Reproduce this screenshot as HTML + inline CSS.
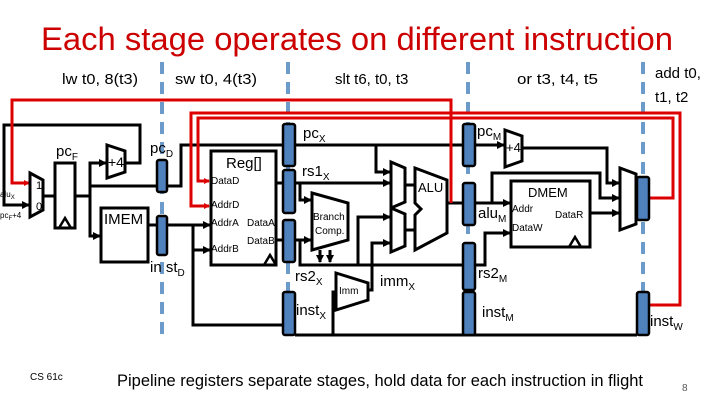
<!DOCTYPE html>
<html><head><meta charset="utf-8"><style>
html,body{margin:0;padding:0;background:#fff;}
svg{display:block;font-family:"Liberation Sans",sans-serif;}
</style></head><body>
<svg width="720" height="405" viewBox="0 0 720 405" xmlns="http://www.w3.org/2000/svg">
<defs>
<marker id="a" markerWidth="5" markerHeight="5" refX="4" refY="2.5" orient="auto" markerUnits="userSpaceOnUse"><path d="M0,0 L5,2.5 L0,5 z" fill="#000"/></marker>
<marker id="r" markerWidth="6" markerHeight="6" refX="5" refY="3" orient="auto" markerUnits="userSpaceOnUse"><path d="M0,0 L6,3 L0,6 z" fill="#d00"/></marker>
<marker id="b" markerWidth="8" markerHeight="8" refX="7" refY="4" orient="auto" markerUnits="userSpaceOnUse"><path d="M0,0 L8,4 L0,8 z" fill="#000"/></marker>
</defs>
<text x="357" y="50" font-size="32" fill="#c00" text-anchor="middle" textLength="632" lengthAdjust="spacingAndGlyphs">Each stage operates on different instruction</text>
<g font-size="15" fill="#000">
<text x="62" y="84" textLength="76" lengthAdjust="spacingAndGlyphs">lw t0, 8(t3)</text>
<text x="175" y="84" textLength="82" lengthAdjust="spacingAndGlyphs">sw t0, 4(t3)</text>
<text x="335" y="84">slt t6, t0, t3</text>
<text x="517" y="84" textLength="81" lengthAdjust="spacingAndGlyphs">or t3, t4, t5</text>
<text x="655" y="78">add t0,</text>
<text x="655" y="102">t1, t2</text>
</g>
<g stroke="#6c9bc9" stroke-width="4" stroke-dasharray="12,8">
<line x1="162" y1="62" x2="162" y2="340"/>
<line x1="288" y1="62" x2="288" y2="340"/>
<line x1="468" y1="62" x2="468" y2="340"/>
<line x1="643" y1="62" x2="643" y2="340"/>
</g>
<g stroke="#000" stroke-width="3" fill="none">
<polyline points="125,163 140,163 140,125 4,125 4,205 29,205" marker-end="url(#b)"/>
<line x1="43" y1="196" x2="55" y2="196"/>
<polyline points="75,196 90,196"/>
<polyline points="90,196 90,163 106,163" marker-end="url(#b)"/>
<polyline points="90,196 90,236 100,236" marker-end="url(#b)"/>
<polyline points="90,186 157,186"/>
<polyline points="148,225 157,225"/>
<polyline points="167,186 181,186 181,145 283,145"/>
<polyline points="167,225 193,225 193,325 283,325" />
<polyline points="193,225 210,225" marker-end="url(#b)"/>
<polyline points="193,250 210,250" marker-end="url(#b)"/>
<line x1="276" y1="183" x2="283" y2="183"/>
<line x1="276" y1="240" x2="283" y2="240"/>
<line x1="295" y1="145" x2="463" y2="145"/>
<polyline points="376,145 376,172 390,172" marker-end="url(#b)"/>
<polyline points="295,183 390,183" marker-end="url(#b)"/>
<polyline points="300,183 300,200 311,200" marker-end="url(#b)"/>
<polyline points="295,240 311,240" marker-end="url(#b)"/>
<polyline points="300,240 300,265 463,265"/>
<polyline points="358,265 358,217 390,217" marker-end="url(#b)"/>
<polyline points="368,290 372,290 372,243 390,243" marker-end="url(#b)"/>
<line x1="295" y1="335" x2="637" y2="335"/>
<polyline points="333,335 333,292 336,292"/>
<line x1="405" y1="185" x2="414" y2="185"/>
<line x1="405" y1="230" x2="414" y2="230"/>
<line x1="447" y1="203" x2="463" y2="203"/>
<line x1="320" y1="250" x2="320" y2="262" marker-end="url(#b)"/>
<line x1="330" y1="250" x2="330" y2="262" marker-end="url(#b)"/>
<polyline points="475,145 504,145" marker-end="url(#b)"/>
<polyline points="522,148 607,148 607,183 619,183" marker-end="url(#b)"/>
<polyline points="475,203 510,203" marker-end="url(#b)"/>
<polyline points="492,203 492,173 600,173 600,198 619,198" marker-end="url(#b)"/>
<polyline points="590,213 619,213" marker-end="url(#b)"/>
<polyline points="475,265 485,265 485,233 510,233" marker-end="url(#b)"/>
<line x1="636" y1="198" x2="637" y2="198"/>
</g>
<g stroke="#d00" stroke-width="3" fill="none">
<polyline points="451,203 451,100 12,100 12,183 29,183" marker-end="url(#r)"/>
<polyline points="650,305 680,305 680,113 191,113 191,206 209,206" marker-end="url(#r)"/>
<polyline points="636,198 673,198 673,118 198,118 198,181 209,181" marker-end="url(#r)"/>
</g>
<g stroke="#000" stroke-width="3" fill="#fff">
<polygon points="30,173 43,180 43,210 30,217"/>
<rect x="55" y="163" width="20" height="65"/>
<polygon points="107,145 125,151 125,172 107,178"/>
<rect x="101" y="208" width="47" height="54"/>
<rect x="211" y="151" width="65" height="114"/>
<polygon points="312,193 348,203 348,240 312,250"/>
<polygon points="336,273 368,283 368,300 336,310"/>
<polygon points="391,162 405,168 405,202 391,208"/>
<polygon points="391,208 405,214 405,246 391,252"/>
<polygon points="415,168 447,180 447,233 415,250 415,215 421,209 415,203"/>
<polygon points="505,130 522,136 522,161 505,167"/>
<rect x="511" y="181" width="79" height="66"/>
<polygon points="620,168 636,174 636,224 620,230"/>
</g>
<g stroke="#000" stroke-width="2.5" fill="none">
<polyline points="59,228 65,218 71,228"/>
<polyline points="264,265 270,255 276,265"/>
<polyline points="569,247 575,237 581,247"/>
</g>
<g fill="#4f81bd" stroke="#000" stroke-width="2.5">
<rect x="157" y="160" width="10" height="32" rx="2"/>
<rect x="157" y="216" width="10" height="39" rx="2"/>
<rect x="283" y="124" width="12" height="42" rx="2"/>
<rect x="283" y="170" width="12" height="43" rx="2"/>
<rect x="283" y="220" width="12" height="42" rx="2"/>
<rect x="283" y="292" width="12" height="43" rx="2"/>
<rect x="463" y="124" width="12" height="42" rx="2"/>
<rect x="463" y="183" width="12" height="42" rx="2"/>
<rect x="463" y="243" width="12" height="47" rx="2"/>
<rect x="463" y="292" width="12" height="43" rx="2"/>
<rect x="637" y="177" width="12" height="43" rx="2"/>
<rect x="637" y="292" width="12" height="43" rx="2"/>
</g>
<g fill="#000">
<text x="56" y="156" font-size="15">pc<tspan font-size="10" dy="4">F</tspan></text>
<text x="150" y="153" font-size="15">pc<tspan font-size="10" dy="4">D</tspan></text>
<text x="108" y="167" font-size="14">+4</text>
<text x="36" y="189" font-size="11">1</text>
<text x="36" y="210" font-size="11">0</text>
<text x="0" y="197" font-size="8">alu<tspan font-size="6" dy="2">X</tspan></text>
<text x="0" y="218" font-size="8">pc<tspan font-size="6" dy="2">F</tspan><tspan dy="-2">+4</tspan></text>
<text x="104" y="224" font-size="15">IMEM</text>
<text x="150" y="272" font-size="15">in st<tspan font-size="10" dy="4">D</tspan></text>
<text x="226" y="168" font-size="15">Reg[]</text>
<g font-size="10">
<text x="211" y="184">DataD</text>
<text x="211" y="208">AddrD</text>
<text x="211" y="226">AddrA</text>
<text x="247" y="226">DataA</text>
<text x="211" y="252">AddrB</text>
<text x="247" y="244">DataB</text>
<text x="313" y="220">Branch</text>
<text x="315" y="234">Comp.</text>
<text x="339" y="294">Imm</text>
<text x="512" y="212">Addr</text>
<text x="555" y="218">DataR</text>
<text x="512" y="231">DataW</text>
</g>
<text x="303" y="138" font-size="15">pc<tspan font-size="10" dy="4">X</tspan></text>
<text x="302" y="176" font-size="15">rs1<tspan font-size="10" dy="4">X</tspan></text>
<text x="295" y="281" font-size="15">rs2<tspan font-size="10" dy="4">X</tspan></text>
<text x="296" y="315" font-size="15">inst<tspan font-size="10" dy="4">X</tspan></text>
<text x="380" y="286" font-size="15">imm<tspan font-size="10" dy="4">X</tspan></text>
<text x="418" y="192" font-size="13">ALU</text>
<text x="477" y="136" font-size="15">pc<tspan font-size="10" dy="4">M</tspan></text>
<text x="506" y="152" font-size="13">+4</text>
<text x="478" y="218" font-size="15">alu<tspan font-size="10" dy="4">M</tspan></text>
<text x="528" y="197" font-size="13">DMEM</text>
<text x="478" y="278" font-size="15">rs2<tspan font-size="10" dy="4">M</tspan></text>
<text x="482" y="317" font-size="15">inst<tspan font-size="10" dy="4">M</tspan></text>
<text x="650" y="326" font-size="15">inst<tspan font-size="10" dy="4">W</tspan></text>
<text x="30" y="380" font-size="10">CS 61c</text>
<text x="117" y="386" font-size="17" textLength="526" lengthAdjust="spacingAndGlyphs">Pipeline registers separate stages, hold data for each instruction in flight</text>
<text x="682" y="391" font-size="10" fill="#555">8</text>
</g>
</svg>
</body></html>
